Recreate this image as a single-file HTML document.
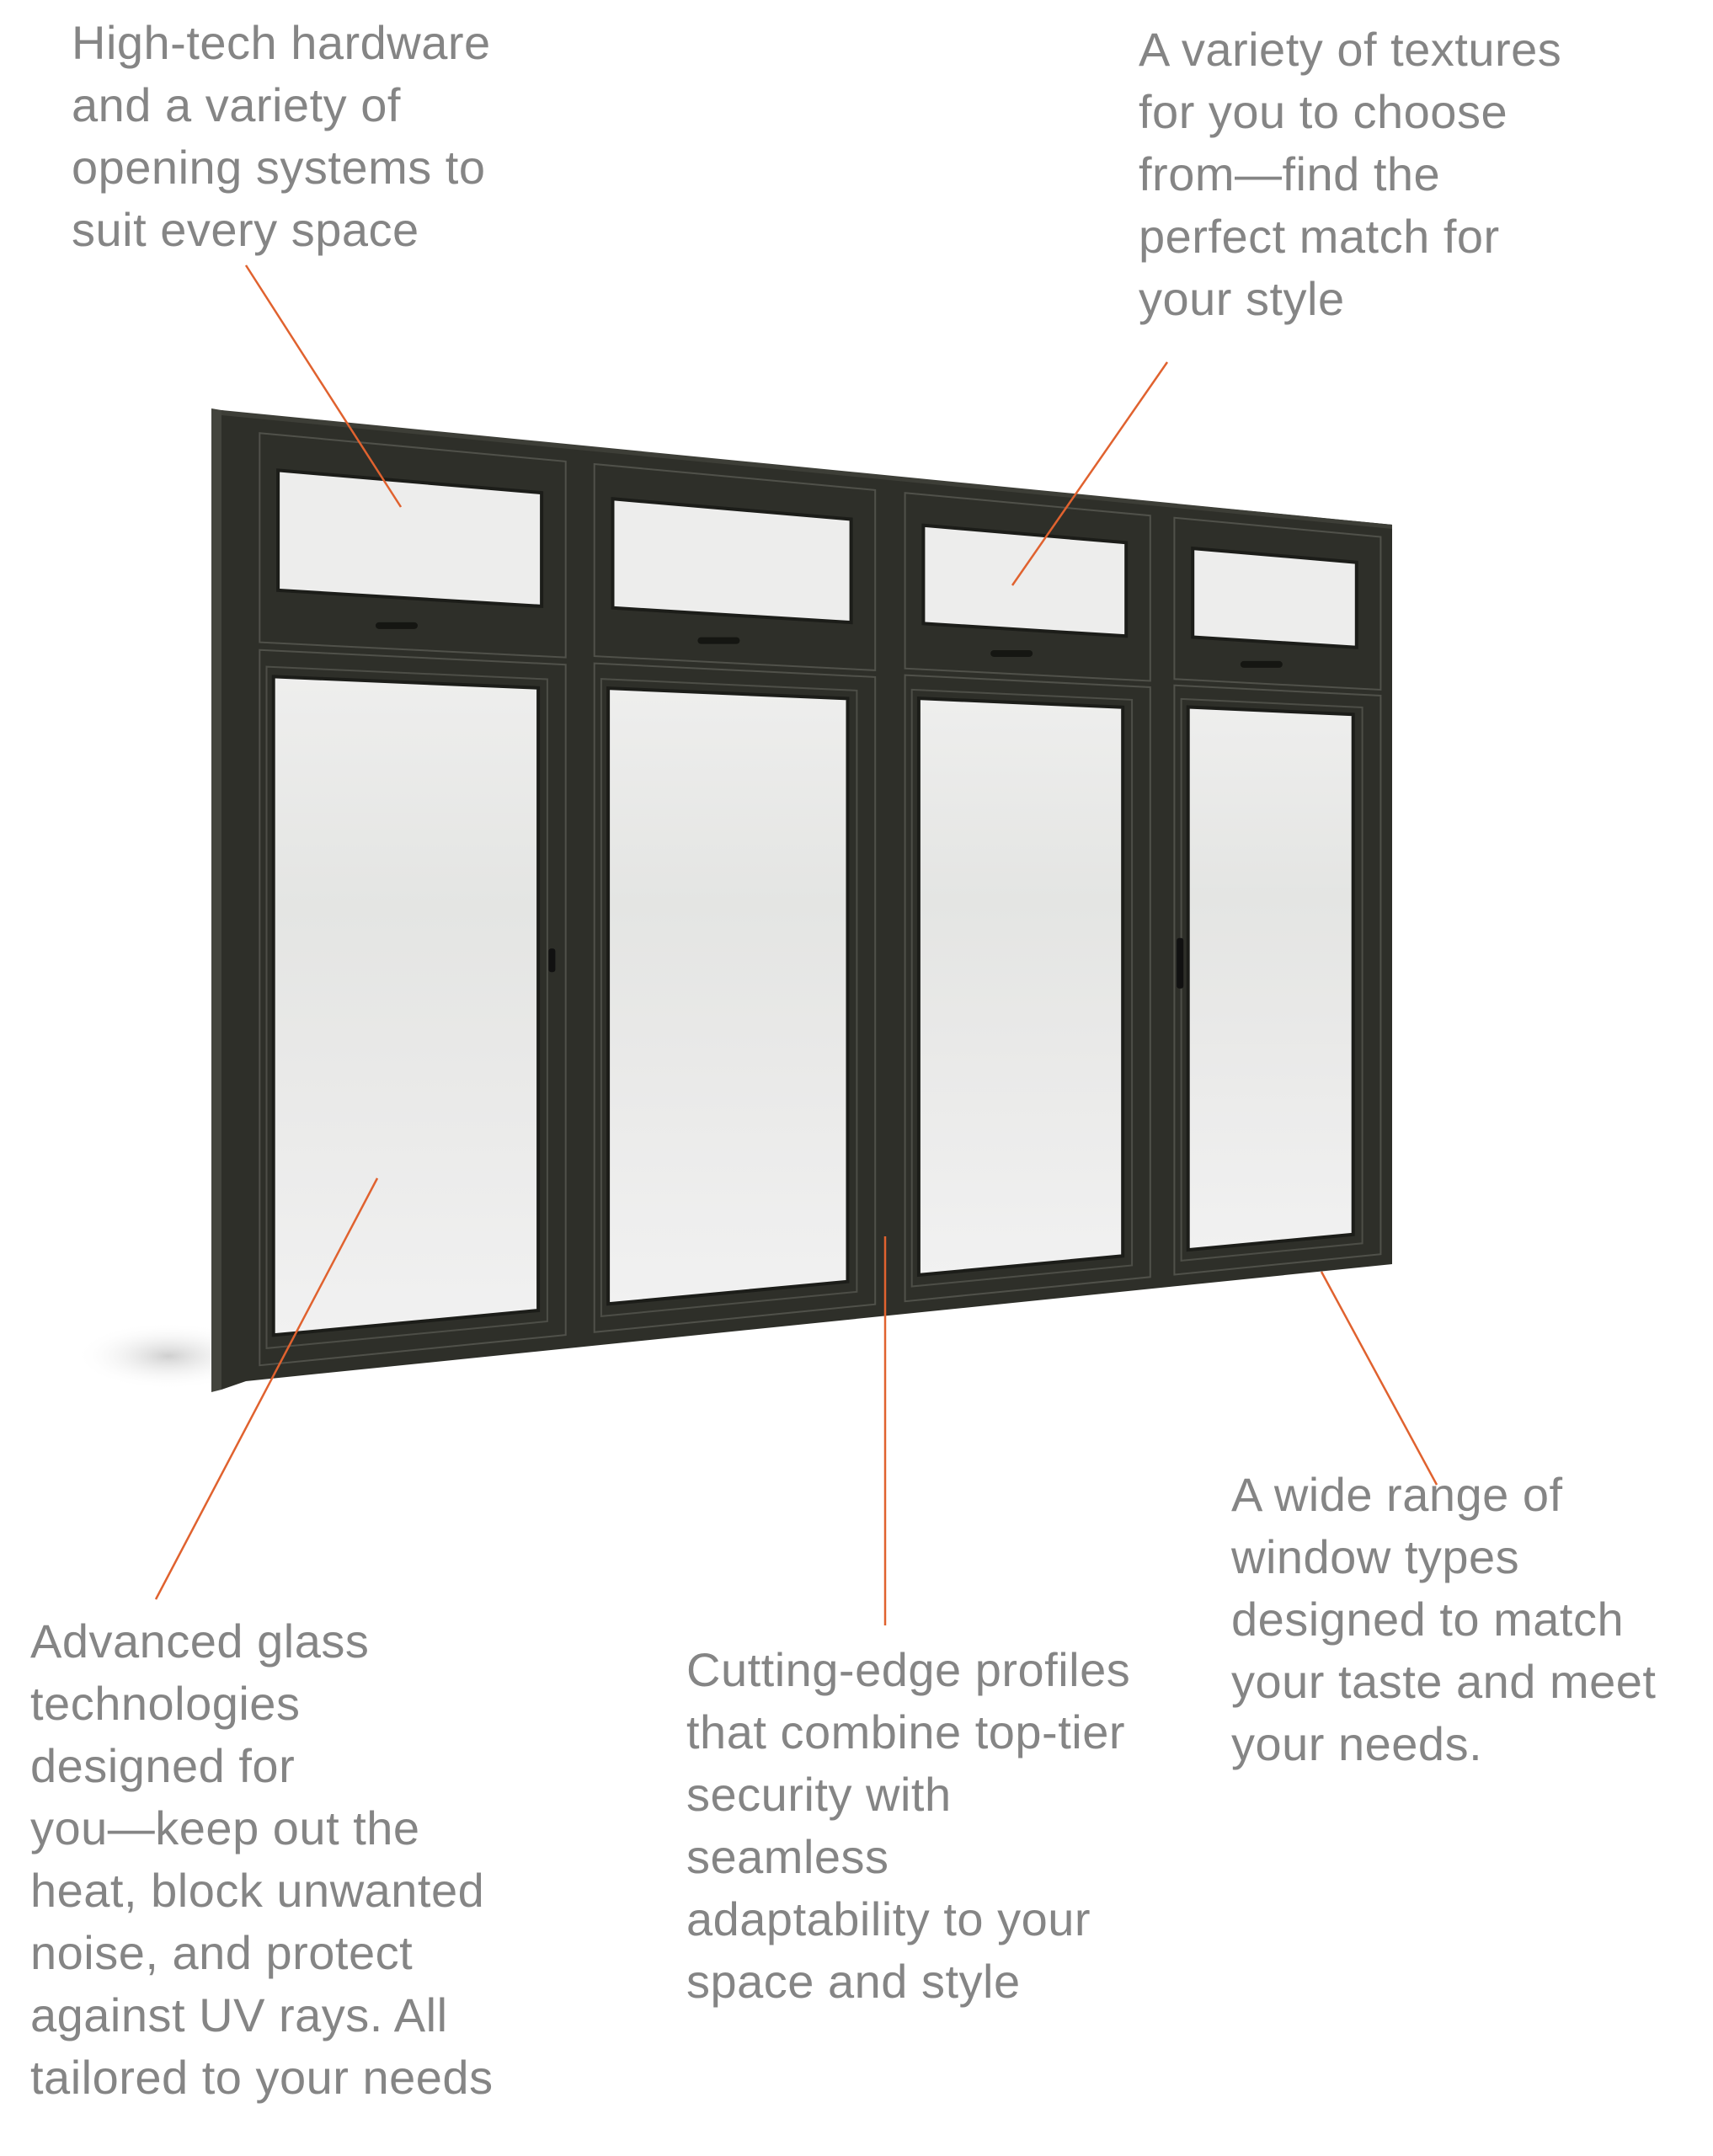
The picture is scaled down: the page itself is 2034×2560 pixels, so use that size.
<!DOCTYPE html>
<html><head><meta charset="utf-8">
<style>
html,body{margin:0;padding:0;background:#fff;}
#wrap{position:relative;width:2034px;height:2560px;overflow:hidden;background:#fff;}
.t{position:absolute;font-family:"Liberation Sans",sans-serif;font-size:56px;line-height:74px;color:#858585;white-space:nowrap;letter-spacing:0.5px;}
svg{position:absolute;left:0;top:0;}
</style></head><body>
<div id="wrap">
<svg id="s" width="2034" height="2560" viewBox="0 0 2034 2560">
<defs>
<radialGradient id="sh" cx="0.5" cy="0.5" r="0.5">
<stop offset="0" stop-color="#cfcfcf"/><stop offset="1" stop-color="#fff" stop-opacity="0"/>
</radialGradient>
<linearGradient id="gl" x1="0" y1="0" x2="0" y2="1">
<stop offset="0" stop-color="#eeeeed"/><stop offset="0.35" stop-color="#e4e5e3"/><stop offset="0.6" stop-color="#e9e9e8"/><stop offset="1" stop-color="#f1f1f1"/>
</linearGradient>
</defs>
<ellipse cx="200" cy="1610" rx="110" ry="40" fill="url(#sh)"/>
<g id="win"></g>
<g stroke="#e0622f" stroke-width="2.5" fill="none">
<line x1="292" y1="315" x2="476" y2="602"/>
<line x1="1386" y1="430" x2="1202" y2="695"/>
<line x1="448" y1="1399" x2="185" y2="1899"/>
<line x1="1051" y1="1468" x2="1051" y2="1930"/>
<line x1="1569" y1="1510" x2="1706" y2="1763"/>
</g>
</svg>
<div class="t" style="left:85px;top:14px;">High-tech hardware<br>and a variety of<br>opening systems to<br>suit every space</div>
<div class="t" style="left:1352px;top:22px;">A variety of textures<br>for you to choose<br>from—find the<br>perfect match for<br>your style</div>
<div class="t" style="left:36px;top:1912px;">Advanced glass<br>technologies<br>designed for<br>you—keep out the<br>heat, block unwanted<br>noise, and protect<br>against UV rays. All<br>tailored to your needs</div>
<div class="t" style="left:815px;top:1946px;">Cutting-edge profiles<br>that combine top-tier<br>security with<br>seamless<br>adaptability to your<br>space and style</div>
<div class="t" style="left:1462px;top:1738px;">A wide range of<br>window types<br>designed to match<br>your taste and meet<br>your needs.</div>
</div>
<script>
(function(){
var g=document.getElementById('win');var NS='http://www.w3.org/2000/svg';
function P(u,v){var x=292+u*1361;var t=492+u*131;var b=1640-u*139;return [x,t+v*(b-t)];}
function quad(u0,v0,u1,v1,attrs){var pts=[P(u0,v0),P(u1,v0),P(u1,v1),P(u0,v1)].map(function(p){return p[0].toFixed(1)+','+p[1].toFixed(1)}).join(' ');
var e=document.createElementNS(NS,'polygon');e.setAttribute('points',pts);for(var k in attrs)e.setAttribute(k,attrs[k]);g.appendChild(e);return e;}
function poly(pts,attrs){var e=document.createElementNS(NS,'polygon');e.setAttribute('points',pts.map(function(p){return p.join(',')}).join(' '));for(var k in attrs)e.setAttribute(k,attrs[k]);g.appendChild(e);}
// side depth (narrow) + extra front border
poly([[251,485],[263,487],[263,1650],[251,1653]],{fill:'#43443d'});
poly([[263,487],[292,492],[292,1640],[263,1650]],{fill:'#2e2f29'});
// front face
quad(0,0,1,1,{fill:'#2e2f29'});
poly([[263,487],[1653,623],[1653,628],[263,493]],{fill:'#3d3e37'});
var cols=[[0,0.283],[0.292,0.553],[0.563,0.793],[0.798,0.994]];
var tv=[0.235,0.232,0.228,0.224];
cols.forEach(function(c,i){
var u0=c[0]+0.012,u1=c[1]-0.004;
quad(u0,0.018,u1,tv[i],{fill:'none',stroke:'#50514a','stroke-width':2});
quad(u0,tv[i]+0.008,u1,0.985,{fill:'none',stroke:'#50514a','stroke-width':2});
quad(c[0]+0.028,0.055,c[1]-0.025,tv[i]-0.055,{fill:'#ededec',stroke:'#1c1d19','stroke-width':4});
quad(c[0]+0.024,tv[i]+0.035,c[1]-0.028,0.955,{fill:'url(#gl)',stroke:'#1c1d19','stroke-width':4});
quad(c[0]+0.018,tv[i]+0.025,c[1]-0.02,0.968,{fill:'none',stroke:'#4d4e47','stroke-width':2});
var hp=P((c[0]+c[1])/2-0.01,tv[i]-0.025);
var r=document.createElementNS(NS,'rect');r.setAttribute('x',hp[0]-25);r.setAttribute('y',hp[1]-4);r.setAttribute('width',50);r.setAttribute('height',8);r.setAttribute('rx',4);r.setAttribute('fill','#151612');g.appendChild(r);
});
[[0.267,0.57],[0.815,0.57]].forEach(function(h){var p=P(h[0],h[1]);var r=document.createElementNS(NS,'rect');r.setAttribute('x',p[0]-4);r.setAttribute('y',p[1]-14);r.setAttribute('width',8);r.setAttribute('height',h[0]>0.5?60:28);r.setAttribute('rx',3);r.setAttribute('fill','#111');g.appendChild(r);});
})();
</script>
</body></html>
